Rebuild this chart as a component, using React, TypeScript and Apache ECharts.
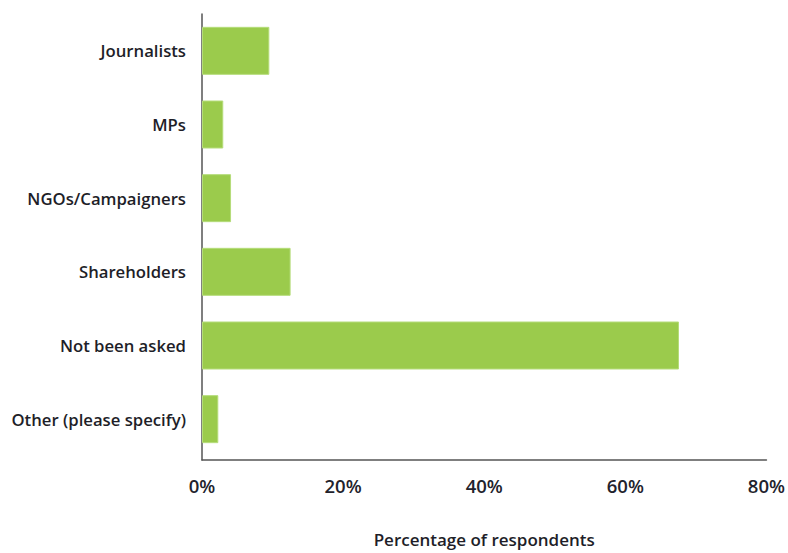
import React, { useEffect, useRef } from "react";
import * as echarts from "echarts";

const categories = [
  "Journalists",
  "MPs",
  "NGOs/Campaigners",
  "Shareholders",
  "Not been asked",
  "Other (please specify)",
];
const values = [9.5, 3.0, 4.1, 12.5, 67.3, 2.3];
const xTicks = [0, 20, 40, 60, 80];

export default function App() {
  const ref = useRef<HTMLDivElement>(null);
  useEffect(() => {
    const chart = echarts.init(ref.current!, null, { renderer: "svg" });
    const font = "Open Sans";
    chart.setOption({
      animation: false,
      backgroundColor: "#ffffff",
      grid: [
        { left: 202, right: 19, top: 14, bottom: 84 },
        { left: 202, right: 19, top: 14, height: 442 },
      ],
      xAxis: [
        {
          gridIndex: 0,
          type: "value",
          min: xTicks[0],
          max: xTicks[xTicks.length - 1],
          interval: 20,
          axisLine: { show: true, lineStyle: { color: "#555555", width: 1.5 } },
          axisTick: { show: false },
          splitLine: { show: false },
          axisLabel: {
            formatter: (v: number) => v + "%",
            color: "#22222c",
            fontFamily: font,
            fontWeight: 600,
            fontSize: 18.5,
            margin: 16,
          },
          name: "Percentage of respondents",
          nameLocation: "middle",
          nameGap: 71,
          nameTextStyle: {
            color: "#1e1e28",
            fontFamily: font,
            fontWeight: 600,
            fontSize: 17,
          },
        },
        {
          gridIndex: 1,
          type: "value",
          min: xTicks[0],
          max: xTicks[xTicks.length - 1],
          show: false,
        },
      ],
      yAxis: [
        {
          gridIndex: 0,
          type: "category",
          data: categories,
          inverse: true,
          axisLine: { show: true, lineStyle: { color: "#555555", width: 1.5 } },
          axisTick: { show: false },
          axisLabel: { show: false },
        },
        {
          gridIndex: 1,
          type: "category",
          data: categories,
          inverse: true,
          axisLine: { show: false },
          axisTick: { show: false },
          axisLabel: {
            color: "#1e1e28",
            fontFamily: font,
            fontWeight: 600,
            fontSize: 16.7,
            margin: 16,
          },
        },
      ],
      series: [
        {
          type: "bar",
          xAxisIndex: 1,
          yAxisIndex: 1,
          data: values,
          barWidth: 48,
          itemStyle: { color: "#9BCB4C", borderColor: "#b5dc7a", borderWidth: 1 },
        },
      ],
    });
    return () => chart.dispose();
  }, []);
  return (
    <div
      ref={ref}
      style={{ position: "absolute", left: 0, top: 0, width: 788, height: 553 }}
    />
  );
}
